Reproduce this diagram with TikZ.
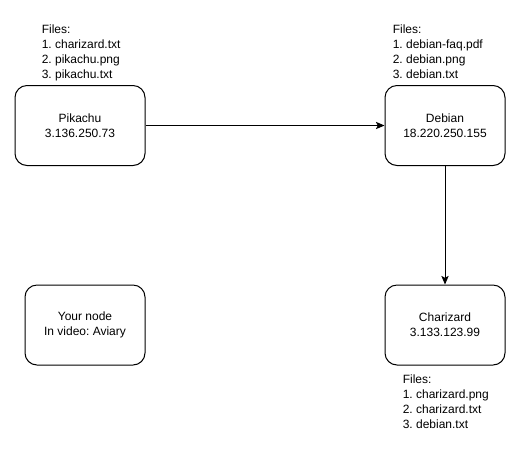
\documentclass[tikz,border=0pt]{standalone}
\usepackage{fontspec}
\setmainfont{Liberation Sans}
\usetikzlibrary{arrows.meta}
\frenchspacing

\tikzset{
  host/.style={draw, rounded corners=9pt, line width=0.75pt, minimum width=90pt, minimum height=60pt, align=center, inner sep=0pt},
  files/.style={anchor=north west, align=left, inner sep=0pt},
  link/.style={-{Stealth[length=6.5pt, width=5.5pt, inset=1.5pt]}, line width=0.75pt},
}

\begin{document}
\begin{tikzpicture}[x=0.75pt, y=-0.75pt, font=\fontsize{9}{11.25}\selectfont]
  \useasboundingbox (0,0) rectangle (521,451);
  % hosts
  \node[host, minimum width=97.5pt] (pikachu) at (80,125.5) {Pikachu\\3.136.250.73};
  \node[host] (debian) at (445,125.5) {Debian\\18.220.250.155};
  \node[host] (charizard) at (445,325) {Charizard\\3.133.123.99};
  \node[host] (yournode) at (85,325) {Your node\\In video: Aviary};
  % file lists
  \node[files] (pikachufiles) at (41.5,25) {Files:\\1. charizard.txt\\2. pikachu.png\\3. pikachu.txt};
  \node[files] (debianfiles) at (392.5,25) {Files:\\1. debian-faq.pdf\\2. debian.png\\3. debian.txt};
  \node[files] (charizardfiles) at (402.5,375) {Files:\\1. charizard.png\\2. charizard.txt\\3. debian.txt};
  % connections
  \draw[link] (pikachu) -- (debian);
  \draw[link] (debian) -- (charizard);
\end{tikzpicture}
\end{document}
